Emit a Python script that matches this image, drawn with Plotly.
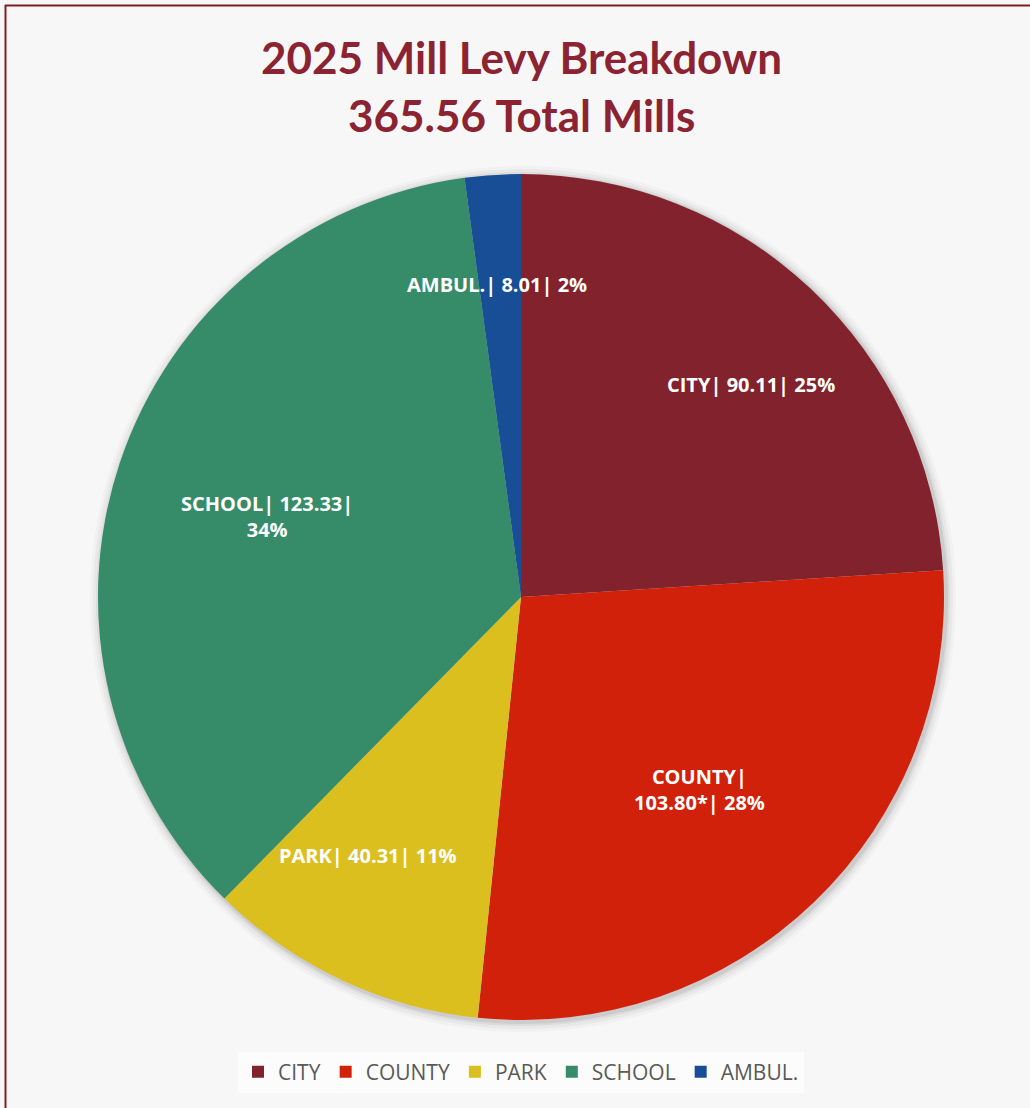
import math
import plotly.graph_objects as go

categories = ["CITY", "COUNTY", "PARK", "SCHOOL", "AMBUL."]
# slice sizes as drawn in the reference (the SCHOOL slice is drawn at ~133.33 although its label reads 123.33)
mills = [90.11, 103.80, 40.31, 133.33, 8.01]
slice_texts = [
    "CITY| 90.11| 25%",
    "COUNTY|<br>103.80*| 28%",
    "PARK| 40.31| 11%",
    "SCHOOL| 123.33|<br>34%",
    "AMBUL.| 8.01| 2%",
]
colors = ["#82222D", "#D2210A", "#DBBF1F", "#368B69", "#174E96"]
# label placement style: distance from centre (fraction of radius) and angular nudge (degrees)
label_radius = [0.74, 0.62, 0.71, 0.63, 0.74]
label_nudge = [4.1, 1.1, 5.4, -0.9, -0.6]

W, H = 1030, 1108
cx, cy, r = 521, 597, 423

fig = go.Figure(go.Pie(
    labels=categories,
    values=mills,
    textinfo="none",
    sort=False,
    direction="clockwise",
    rotation=0,
    marker=dict(colors=colors, line=dict(width=0)),
    hoverinfo="label+value+percent",
    domain=dict(x=[(cx - r) / W, (cx + r) / W], y=[(H - cy - r) / H, (H - cy + r) / H]),
))

# slice labels placed around the middle angle of each slice (computed from the data)
total = sum(mills)
annotations = []
cum = 0.0
for txt, v, rf, nd in zip(slice_texts, mills, label_radius, label_nudge):
    mid = (cum + v / 2) / total * 2 * math.pi + math.radians(nd)
    cum += v
    px = cx + rf * r * math.sin(mid)
    py = cy - rf * r * math.cos(mid)
    annotations.append(dict(
        text=txt, x=px / W, y=1 - py / H, xref="paper", yref="paper",
        xanchor="center", yanchor="middle", showarrow=False, align="center",
        font=dict(family="'Open Sans', Lato, sans-serif", size=20, color="white", weight="bold"),
    ))

title_font = dict(family="Lato, 'Open Sans', sans-serif", size=44, color="#8B2332", weight="bold")
annotations.append(dict(text="2025 Mill Levy Breakdown", x=cx / W, y=1 - 57 / H, xref="paper", yref="paper",
                        xanchor="center", yanchor="middle", showarrow=False, font=title_font))
annotations.append(dict(text="365.56 Total Mills", x=cx / W, y=1 - 115 / H, xref="paper", yref="paper",
                        xanchor="center", yanchor="middle", showarrow=False, font=title_font))

# soft shadow rings behind the pie
shapes = []
for grow, alpha in [(10, 0.025), (7, 0.035), (4, 0.05), (2, 0.07)]:
    shapes.append(dict(type="circle", xref="paper", yref="paper", layer="below",
                       x0=(cx - r - grow + 2) / W, x1=(cx + r + grow + 2) / W,
                       y0=1 - (cy + r + grow + 2) / H, y1=1 - (cy - r - grow + 2) / H,
                       fillcolor=f"rgba(0,0,0,{alpha})", line=dict(width=0)))
shapes += [
    dict(type="line", xref="paper", yref="paper", x0=5.5 / W, x1=5.5 / W, y0=0, y1=1 - 5 / H,
         line=dict(color="#7F1F2A", width=2)),
    dict(type="line", xref="paper", yref="paper", x0=5 / W, x1=1, y0=1 - 5.5 / H, y1=1 - 5.5 / H,
         line=dict(color="#7F1F2A", width=2)),
]

fig.update_layout(
    width=W, height=H,
    margin=dict(l=0, r=0, t=0, b=0),
    paper_bgcolor="#F7F7F7",
    plot_bgcolor="#F7F7F7",
    annotations=annotations,
    legend=dict(
        orientation="h",
        x=cx / W, xanchor="center",
        y=1 - 1072 / H, yanchor="middle",
        bgcolor="#FCFCFC",
        font=dict(family="'Open Sans', Lato, sans-serif", size=21, color="#595959"),
        traceorder="normal",
    ),
    shapes=shapes,
)

fig.write_html("out.html", config={"displayModeBar": False},
               post_script="document.body.style.margin='0';document.body.style.overflow='hidden';")
